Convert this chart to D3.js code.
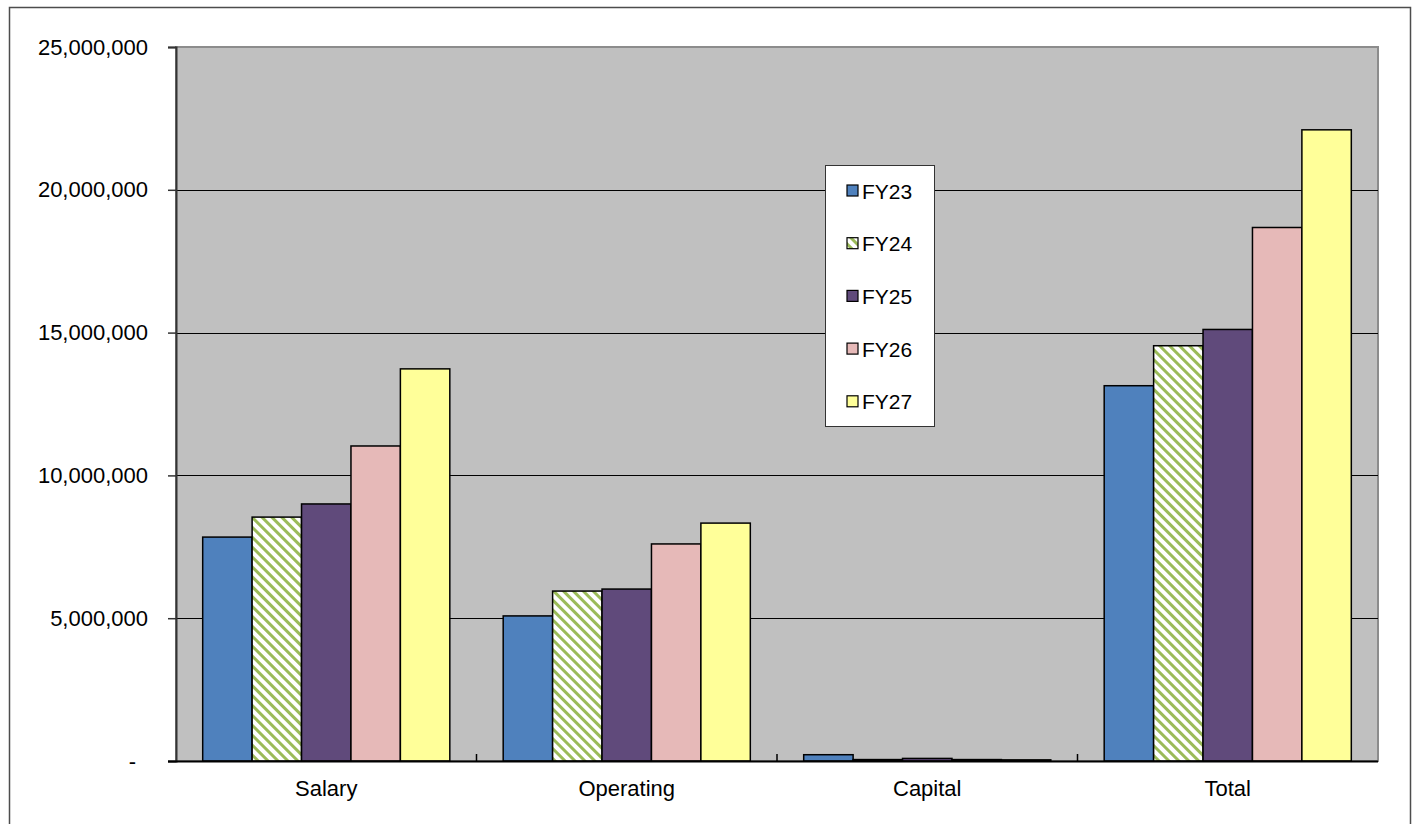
<!DOCTYPE html>
<html>
<head>
<meta charset="utf-8">
<script src="https://cdn.jsdelivr.net/npm/d3@7"></script>
<style>
  body { margin: 0; background: #fff; }
  svg { display: block; }
  text { font-family: "Liberation Sans", Arial, sans-serif; }
</style>
</head>
<body>
<svg width="1416" height="824"></svg>
<script>
const categories = ["Salary", "Operating", "Capital", "Total"];
const series = ["FY23", "FY24", "FY25", "FY26", "FY27"];
const fy23 = [7840000, 5080000, 220000, 13140000];
const fy24 = [8540000, 5950000, 50000, 14540000];
const fy25 = [9000000, 6020000, 90000, 15110000];
const fy26 = [11030000, 7600000, 50000, 18680000];
const fy27 = [13730000, 8330000, 40000, 22100000];
const yTicks = [0, 5000000, 10000000, 15000000, 20000000, 25000000];

const values = [fy23, fy24, fy25, fy26, fy27];
const fills = ["#4F81BD", "url(#hatch)", "#604A7B", "#E6B9B8", "#FFFF99"];

const svg = d3.select("svg"),
  plotLeft = 176, plotRight = 1378, plotTop = 47, plotBottom = 761;

// hatch pattern for FY24
const defs = svg.append("defs");
const pat = defs.append("pattern")
  .attr("id", "hatch")
  .attr("patternUnits", "userSpaceOnUse")
  .attr("width", 7).attr("height", 7)
  .attr("patternTransform", "rotate(-45)");
pat.append("rect").attr("width", 7).attr("height", 7).attr("fill", "#fff");
pat.append("rect").attr("x", 0).attr("width", 3).attr("height", 7).attr("fill", "#9BBB59");

// outer chart border
svg.append("rect")
  .attr("x", 9.5).attr("y", 7.5).attr("width", 1401).attr("height", 830)
  .attr("fill", "#fff").attr("stroke", "#4d4d4d").attr("stroke-width", 1.5);

const x0 = d3.scaleBand().domain(categories).range([plotLeft, plotRight]);
const x1 = d3.scaleBand().domain(series).range([0, x0.bandwidth()]).paddingOuter(0.54);
const y = d3.scaleLinear().domain([0, 25000000]).range([plotBottom, plotTop]);

// plot background
svg.append("rect")
  .attr("x", plotLeft).attr("y", plotTop)
  .attr("width", plotRight - plotLeft).attr("height", plotBottom - plotTop)
  .attr("fill", "#C0C0C0").attr("stroke", "#8c8c8c").attr("stroke-width", 2);

// grid
svg.append("g")
  .selectAll("line")
  .data(yTicks.filter(d => d > 0 && d < 25000000))
  .enter().append("line")
  .attr("x1", plotLeft).attr("x2", plotRight)
  .attr("y1", d => Math.round(y(d)) + 0.5).attr("y2", d => Math.round(y(d)) + 0.5)
  .attr("stroke", "#000").attr("stroke-width", 1);

// bars
const rows = [];
categories.forEach((c, i) => {
  series.forEach((s, j) => {
    rows.push({ cat: c, s: s, v: values[j][i], fill: fills[j] });
  });
});

svg.append("g")
  .selectAll("rect")
  .data(rows)
  .enter().append("rect")
  .attr("x", d => x0(d.cat) + x1(d.s))
  .attr("y", d => y(d.v))
  .attr("width", x1.bandwidth())
  .attr("height", d => plotBottom - y(d.v))
  .attr("fill", d => d.fill)
  .attr("stroke", "#000").attr("stroke-width", 1.5);

// y axis
const yAxis = d3.axisLeft(y)
  .tickValues(yTicks)
  .tickSize(8)
  .tickPadding(20)
  .tickFormat(d => d === 0 ? "-" : d3.format(",")(d));

const ya = svg.append("g").attr("transform", "translate(" + plotLeft + ",0)").call(yAxis);
ya.select(".domain").attr("stroke", "#333").attr("stroke-width", 2);
ya.selectAll(".tick line").attr("stroke", "#333").attr("stroke-width", 1.5);
ya.selectAll("text").attr("font-size", 22).attr("fill", "#000")
  .attr("font-family", "'Liberation Sans', Arial, sans-serif");
ya.selectAll(".tick text").filter(d => d === 0).attr("dx", -12);

// x axis
svg.append("line")
  .attr("x1", plotLeft - 8).attr("x2", plotRight)
  .attr("y1", plotBottom + 0.5).attr("y2", plotBottom + 0.5)
  .attr("stroke", "#000").attr("stroke-width", 2);

svg.append("g")
  .selectAll("line")
  .data(categories.slice(1))
  .enter().append("line")
  .attr("x1", d => x0(d)).attr("x2", d => x0(d))
  .attr("y1", plotBottom).attr("y2", plotBottom - 7)
  .attr("stroke", "#000").attr("stroke-width", 1.5);

svg.append("g")
  .selectAll("text")
  .data(categories)
  .enter().append("text")
  .attr("x", d => x0(d) + x0.bandwidth() / 2)
  .attr("y", 796)
  .attr("text-anchor", "middle")
  .attr("font-size", 22)
  .text(d => d);

// legend
const lg = svg.append("g").attr("transform", "translate(825,165)");
lg.append("rect")
  .attr("x", 0.5).attr("y", 0.5).attr("width", 109).attr("height", 261)
  .attr("fill", "#fff").attr("stroke", "#333").attr("stroke-width", 1);

const items = lg.selectAll("g.item")
  .data(series)
  .enter().append("g")
  .attr("class", "item")
  .attr("transform", (d, i) => "translate(0," + (26 + i * 52.7) + ")");

items.append("rect")
  .attr("x", 22).attr("y", -6).attr("width", 11).attr("height", 11)
  .attr("fill", (d, i) => fills[i])
  .attr("stroke", "#000").attr("stroke-width", 1.2);

items.append("text")
  .attr("x", 37).attr("y", 7.5)
  .attr("font-size", 21)
  .text(d => d);
</script>
</body>
</html>
